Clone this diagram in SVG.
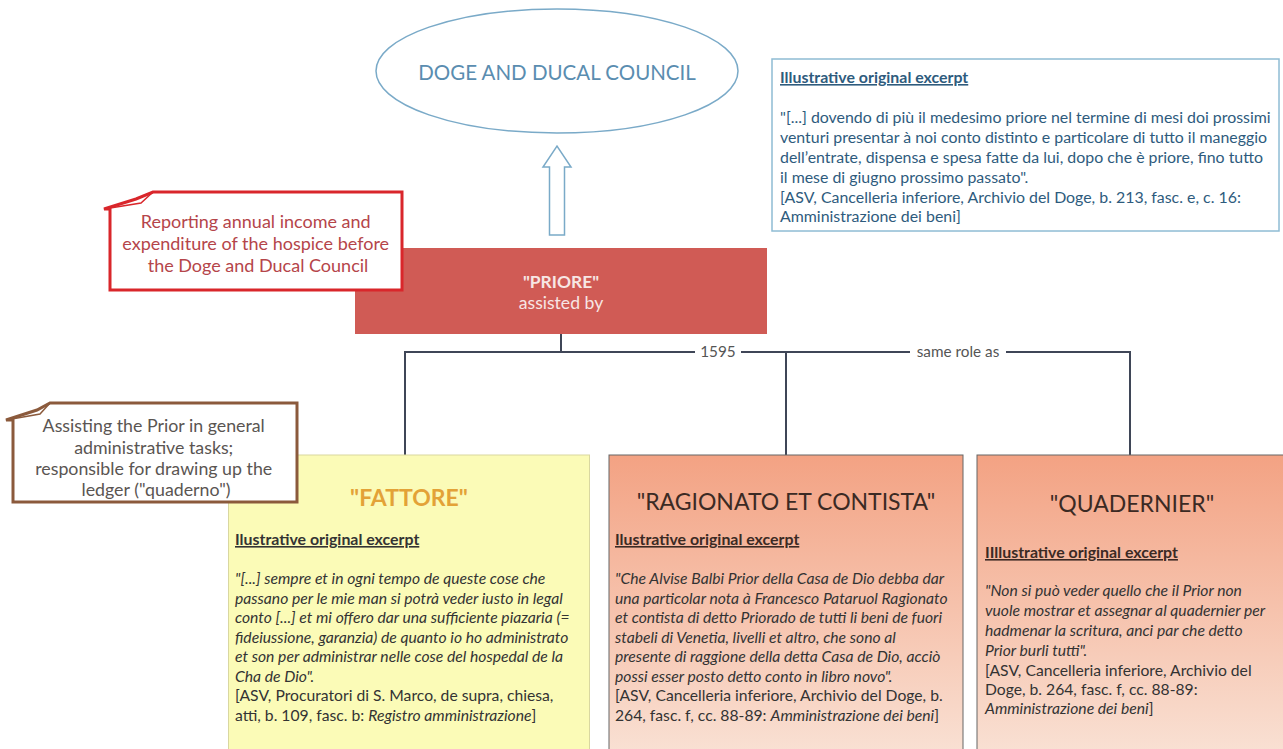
<svg xmlns="http://www.w3.org/2000/svg" width="1283" height="749" viewBox="0 0 1283 749">
<defs>
<style>
text{font-family:Lato,"Open Sans","Liberation Sans",sans-serif;}
.conn{fill:none;stroke:#3f4657;stroke-width:2;}
.lbl{font-size:15.3px;fill:#555;text-anchor:middle;}
.hdr{font-size:15.9px;font-weight:bold;text-decoration:underline;}
.body{font-size:15.7px;fill:#333;}
.it{font-style:italic;}
.blue{fill:#2e5b7d;font-size:15.9px;}
.title{font-size:23px;text-anchor:middle;}
</style>
<linearGradient id="og" x1="0" y1="0" x2="0" y2="1">
<stop offset="0" stop-color="#f3a283"/>
<stop offset="1" stop-color="#f9e1d4"/>
</linearGradient>
</defs>
<rect width="1283" height="749" fill="#ffffff"/>

<g id="doge">
<ellipse cx="557" cy="71" rx="181" ry="62" fill="#ffffff" stroke="#7aaac8" stroke-width="1.5"/>
<text x="557" y="80" text-anchor="middle" font-size="20.5" fill="#5a8db0">DOGE AND DUCAL COUNCIL</text>
</g>

<g id="up-arrow">
<polygon points="549.5,235 549.5,167 543,167 557,146 571,167 564.5,167 564.5,235" fill="#ffffff" stroke="#7aaac8" stroke-width="1.5"/>
</g>

<g id="excerpt-doge">
<rect x="772" y="59" width="507" height="172" fill="#ffffff" stroke="#8fbcd4" stroke-width="1.5"/>
<text x="780" y="83" class="hdr" fill="#2e5b7d">Illustrative original excerpt</text>
<text class="blue">
<tspan x="780" y="123">"[...] dovendo di più il medesimo priore nel termine di mesi doi prossimi</tspan>
<tspan x="780" y="143">venturi presentar à noi conto distinto e particolare di tutto il maneggio</tspan>
<tspan x="780" y="163">dell’entrate, dispensa e spesa fatte da lui, dopo che è priore, fino tutto</tspan>
<tspan x="780" y="183">il mese di giugno prossimo passato".</tspan>
<tspan x="780" y="203">[ASV, Cancelleria inferiore, Archivio del Doge, b. 213, fasc. e, c. 16:</tspan>
<tspan x="780" y="222">Amministrazione dei beni]</tspan>
</text>
</g>

<g id="priore">
<rect x="355" y="248" width="412" height="86" fill="#d05b55"/>
<text x="561" y="288" text-anchor="middle" font-size="17.4" font-weight="bold" fill="#f7e6e4">"PRIORE"</text>
<text x="561" y="309" text-anchor="middle" font-size="17.6" fill="#f7e6e4">assisted by</text>
</g>

<g id="callout-priore">
<path d="M110,290 V209 H104 L136,199 L153,192 H402 V290 Z" fill="#ffffff" stroke="#d9262b" stroke-width="3" stroke-linejoin="miter"/>
<path d="M104,209 L141,203 L153,192" fill="none" stroke="#d9262b" stroke-width="1.5"/>
<text text-anchor="middle" font-size="18" fill="#b5454a">
<tspan x="258" y="228">Reporting annual income and</tspan>
<tspan x="258" y="250">expenditure of the hospice before</tspan>
<tspan x="258" y="272">the Doge and Ducal Council</tspan>
</text>
</g>

<g id="connectors">
<path class="conn" d="M561,334 V352 H1130 V455"/>
<path class="conn" d="M561,352 H405 V455"/>
<path class="conn" d="M786,352 V455"/>
<rect x="695" y="342" width="46" height="20" fill="#ffffff"/>
<text x="718" y="357" class="lbl">1595</text>
<rect x="910" y="342" width="96" height="20" fill="#ffffff"/>
<text x="958" y="357" class="lbl">same role as</text>
</g>

<g id="fattore">
<rect x="228.5" y="455" width="361" height="300" fill="#fbfbb7" stroke="#d9d7a0" stroke-width="1"/>
<text x="409" y="506" class="title" font-weight="bold" fill="#e3a237">"FATTORE"</text>
<text x="235" y="545" class="hdr" fill="#333">Ilustrative original excerpt</text>
<text class="body">
<tspan class="it" x="235" y="584">"[...] sempre et in ogni tempo de queste cose che</tspan>
<tspan class="it" x="235" y="603.5">passano per le mie man si potrà veder iusto in legal</tspan>
<tspan class="it" x="235" y="623">conto [...] et mi offero dar una sufficiente piazaria (=</tspan>
<tspan class="it" x="235" y="642.5">fideiussione, garanzia) de quanto io ho administrato</tspan>
<tspan class="it" x="235" y="662">et son per administrar nelle cose del hospedal de la</tspan>
<tspan class="it" x="235" y="681.5">Cha de Dio".</tspan>
<tspan x="235" y="701">[ASV, Procuratori di S. Marco, de supra, chiesa,</tspan>
<tspan x="235" y="720.5">atti, b. 109, fasc. b: <tspan class="it">Registro amministrazione</tspan>]</tspan>
</text>
</g>

<g id="ragionato">
<rect x="609" y="455" width="354" height="300" fill="url(#og)" stroke="#666" stroke-width="1"/>
<text x="786" y="510" class="title" fill="#3b2a24">"RAGIONATO ET CONTISTA"</text>
<text x="615" y="545" class="hdr" fill="#3b2a24">Ilustrative original excerpt</text>
<text class="body">
<tspan class="it" x="615" y="584">"Che Alvise Balbi Prior della Casa de Dio debba dar</tspan>
<tspan class="it" x="615" y="603.5">una particolar nota à Francesco Pataruol Ragionato</tspan>
<tspan class="it" x="615" y="623">et contista di detto Priorado de tutti li beni de fuori</tspan>
<tspan class="it" x="615" y="642.5">stabeli di Venetia, livelli et altro, che sono al</tspan>
<tspan class="it" x="615" y="662">presente di raggione della detta Casa de Dio, acciò</tspan>
<tspan class="it" x="615" y="681.5">possi esser posto detto conto in libro novo".</tspan>
<tspan x="615" y="701">[ASV, Cancelleria inferiore, Archivio del Doge, b.</tspan>
<tspan x="615" y="720.5">264, fasc. f, cc. 88-89: <tspan class="it">Amministrazione dei beni</tspan>]</tspan>
</text>
</g>

<g id="quadernier">
<rect x="977" y="455" width="320" height="300" fill="url(#og)" stroke="#666" stroke-width="1"/>
<text x="1132" y="512" class="title" fill="#3b2a24">"QUADERNIER"</text>
<text x="985" y="558" class="hdr" fill="#3b2a24">IIllustrative original excerpt</text>
<text class="body">
<tspan class="it" x="985" y="596">"Non si può veder quello che il Prior non</tspan>
<tspan class="it" x="985" y="616">vuole mostrar et assegnar al quadernier per</tspan>
<tspan class="it" x="985" y="636">hadmenar la scritura, anci par che detto</tspan>
<tspan class="it" x="985" y="656">Prior burli tutti".</tspan>
<tspan x="985" y="676">[ASV, Cancelleria inferiore, Archivio del</tspan>
<tspan x="985" y="695">Doge, b. 264, fasc. f, cc. 88-89:</tspan>
<tspan class="it" x="985" y="714">Amministrazione dei beni<tspan font-style="normal">]</tspan></tspan>
</text>
</g>

<g id="callout-fattore">
<path d="M13,502 V420 H6 L37,410 L50,403 H297 V502 Z" fill="#ffffff" stroke="#8b5a3c" stroke-width="3"/>
<path d="M6,420 L40,414 L50,403" fill="none" stroke="#8b5a3c" stroke-width="1.5"/>
<text text-anchor="middle" font-size="17.8" fill="#5a5552">
<tspan x="156" y="432">Assisting the Prior in general</tspan>
<tspan x="156" y="454">administrative tasks;</tspan>
<tspan x="156" y="475">responsible for drawing up the</tspan>
<tspan x="156" y="496">ledger ("quaderno")</tspan>
</text>
</g>
</svg>
